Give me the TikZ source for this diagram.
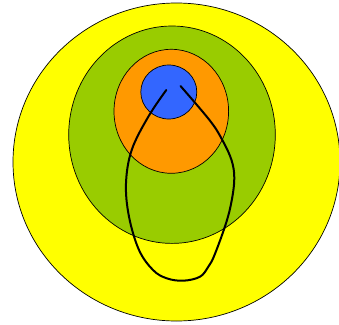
\documentclass[tikz,border=0pt]{standalone}
\definecolor{cyellow}{HTML}{FFFF00}
\definecolor{cgreen}{HTML}{99CC00}
\definecolor{corange}{HTML}{FF9900}
\definecolor{cblue}{HTML}{3366FF}
\begin{document}
\begin{tikzpicture}[x=1pt,y=-1pt,
  ring/.style={draw=black,line width=0.7pt},
  loopline/.style={draw=black,line width=2pt,line cap=round,line join=round}]
\useasboundingbox (0,0) rectangle (339,324);
\begin{scope}
\clip (0,0) rectangle (339,324);
\fill[cyellow,ring] (176.5,162) ellipse [x radius=163.5, y radius=159];
\end{scope}
\fill[cgreen,ring] (172,134.7) ellipse [x radius=103.3, y radius=108.7];
\fill[corange,ring] (171.3,111.3) ellipse [x radius=57.3, y radius=62];
\fill[cblue,ring] (168.8,92) ellipse [x radius=28, y radius=27];
\draw[loopline] plot[smooth, tension=0.6] coordinates {
  (166.3,90) (148.3,116.7) (131.7,150) (126,183.3) (129,216.7) (139,250)
  (153,270) (166.7,278.3) (183.3,280.7) (200,276.7) (208.3,266.7) (214.5,255)
  (226,223.3) (231.8,200) (234.3,178) (231.5,160) (222.3,140) (210,120.7) (180.5,86)};
\end{tikzpicture}
\end{document}
